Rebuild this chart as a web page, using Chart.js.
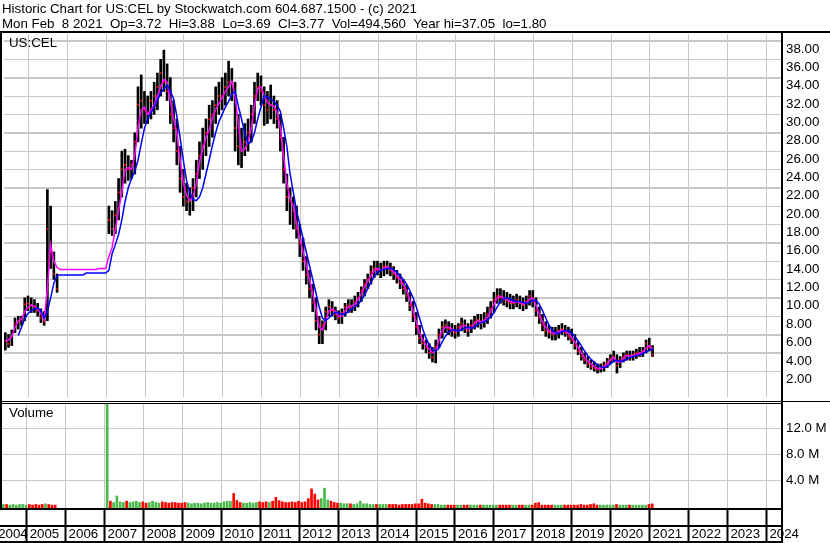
<!DOCTYPE html>
<html>
<head>
<meta charset="utf-8">
<script src="https://cdn.jsdelivr.net/npm/chart.js@4.4.1/dist/chart.umd.min.js"></script>
<style>
  body { margin: 0; background: #fff; width: 830px; height: 543px; overflow: hidden; position: relative; }
  canvas { position: absolute; left: 0; }
  .txt { position: absolute; font-family: "Liberation Sans", Arial, sans-serif; font-size: 13.3px; line-height: 15px; white-space: pre; color: #000; }
</style>
</head>
<body>
<canvas id="price" width="830" height="371" style="top:30px"></canvas>
<canvas id="volume" width="830" height="143" style="top:400px"></canvas>
<div class="txt" style="left:2px;top:1.4px">Historic Chart for US:CEL by Stockwatch.com 604.687.1500 - (c) 2021
Mon Feb  8 2021  Op=3.72  Hi=3.88  Lo=3.69  Cl=3.77  Vol=494,560  Year hi=37.05  lo=1.80</div>
<div class="txt" style="left:9px;top:35.4px">US:CEL</div>
<div class="txt" style="left:9px;top:405.4px">Volume</div>
<script>
// monthly bars, first one is May 2004, last one Feb 2021
var firstMonth = 2004.4;
var yearTicks = [2004, 2005, 2006, 2007, 2008, 2009, 2010, 2011, 2012, 2013, 2014, 2015, 2016, 2017, 2018, 2019, 2020, 2021, 2022, 2023, 2024];
var priceTicks = [2, 4, 6, 8, 10, 12, 14, 16, 18, 20, 22, 24, 26, 28, 30, 32, 34, 36, 38];
var volumeTicks = [4, 8, 12];
var N = null;

var high = [
  6.2, 6.0, 6.5, 7.8, 8.0, 8.0, 10.0, 10.2,
  10.0, 9.8, 9.4, 8.8, 8.5, 21.8, 20.0, 15.0, 12.6, N, N, N,
  N, N, N, N, N, N, N, N, N, N, N, N,
  20.0, 19.5, 20.5, 23.0, 26.0, 26.2, 25.5, 25.0, 28.0, 33.0, 34.3, 32.5,
  32.0, 32.5, 33.5, 34.5, 36.0, 37.0, 35.5, 34.0, 31.5, 29.5, 26.5, 24.0,
  22.5, 22.0, 23.0, 25.0, 27.0, 28.5, 29.5, 31.0, 31.5, 33.0, 33.5, 34.0,
  34.5, 35.8, 35.0, 33.5, 30.0, 28.5, 29.0, 29.5, 31.0, 33.5, 34.5, 34.2,
  33.0, 32.5, 33.2, 32.0, 31.5, 30.0, 27.5, 23.5, 22.0, 21.0, 20.0, 18.0,
  16.5, 14.5, 13.0, 11.5, 10.0, 8.0, 7.5, 9.0, 9.8, 9.6, 9.0, 8.6,
  8.8, 9.4, 9.8, 9.8, 10.2, 10.6, 11.2, 12.0, 12.6, 13.5, 14.0, 14.0,
  13.8, 14.0, 14.0, 13.8, 13.4, 13.0, 12.6, 12.0, 11.4, 10.6, 9.6, 8.4,
  7.0, 6.0, 5.4, 5.0, 4.6, 5.4, 6.6, 7.4, 7.6, 7.4, 7.2, 7.0,
  7.2, 7.8, 7.6, 7.2, 7.6, 8.0, 8.2, 8.2, 8.4, 9.0, 9.6, 10.6,
  11.0, 11.0, 10.8, 10.6, 10.4, 10.2, 10.4, 10.2, 10.0, 10.2, 10.8, 10.8,
  10.0, 9.0, 8.2, 7.4, 7.0, 6.8, 6.8, 7.0, 7.2, 7.0, 6.8, 6.6,
  6.0, 5.2, 4.6, 4.0, 3.6, 3.2, 3.0, 2.8, 2.8, 3.0, 3.4, 3.8,
  4.2, 3.8, 3.6, 4.0, 4.2, 4.2, 4.2, 4.4, 4.6, 4.6, 5.4, 5.6,
  4.8
];
var low = [
  4.3, 4.6, 4.8, 6.2, 6.6, 7.0, 7.5, 8.6,
  8.4, 8.4, 8.0, 7.3, 7.0, 7.5, 13.2, 12.0, 10.6, N, N, N,
  N, N, N, N, N, N, N, N, N, N, N, N,
  17.0, 16.8, 17.0, 18.5, 21.0, 22.5, 22.8, 23.0, 23.5, 27.0, 28.5, 29.0,
  29.0, 29.5, 30.0, 30.5, 32.0, 32.5, 31.5, 29.0, 27.0, 24.5, 21.5, 20.0,
  19.5, 19.0, 19.5, 21.0, 23.0, 24.0, 25.5, 26.5, 27.5, 29.0, 30.0, 30.5,
  31.0, 32.0, 31.5, 26.0, 24.5, 24.2, 25.5, 26.0, 27.0, 29.0, 31.5, 31.0,
  28.8, 29.0, 29.5, 29.0, 28.5, 26.0, 22.5, 19.5, 18.0, 17.5, 16.5, 14.5,
  13.0, 11.5, 10.0, 8.5, 6.5, 5.0, 5.0, 6.5, 8.0, 8.0, 7.6, 7.2,
  7.2, 8.0, 8.4, 8.4, 8.6, 9.0, 9.6, 10.2, 11.0, 11.5, 12.2, 12.5,
  12.2, 12.4, 12.6, 12.4, 12.0, 11.6, 11.0, 10.4, 9.6, 8.6, 7.4, 6.0,
  5.0, 4.4, 4.0, 3.4, 3.0, 2.9, 4.6, 5.6, 6.2, 6.0, 5.8, 5.6,
  5.8, 6.4, 6.2, 5.8, 6.2, 6.6, 6.8, 6.6, 6.8, 7.2, 7.8, 8.4,
  9.4, 9.4, 9.2, 9.0, 8.8, 8.8, 9.0, 8.8, 8.6, 8.8, 9.2, 9.0,
  8.0, 7.2, 6.4, 5.8, 5.6, 5.4, 5.4, 5.6, 6.0, 5.8, 5.4, 5.0,
  4.4, 3.8, 3.2, 2.8, 2.4, 2.2, 2.0, 1.8, 1.9, 2.0, 2.4, 2.8,
  3.0, 1.8, 2.4, 3.0, 3.2, 3.2, 3.2, 3.4, 3.6, 3.6, 4.0, 4.2,
  3.6
];
var close = [
  5.3, 5.0, 5.8, 7.2, 7.4, 7.6, 9.3, 9.4,
  9.2, 9.0, 8.6, 7.8, 7.4, 17.5, 15.0, 12.6, 11.0, N, N, N,
  N, N, N, N, N, N, N, N, N, N, N, N,
  18.5, 17.5, 19.0, 21.5, 24.0, 24.5, 24.0, 24.5, 27.0, 31.0, 31.5, 30.5,
  30.0, 31.5, 32.0, 33.0, 34.5, 33.5, 32.5, 30.0, 28.5, 26.0, 23.0, 21.0,
  20.5, 20.5, 22.0, 23.5, 25.5, 26.5, 28.0, 29.5, 30.0, 31.0, 32.0, 32.0,
  33.0, 33.5, 33.5, 28.5, 26.5, 26.0, 27.0, 28.0, 30.0, 32.0, 33.0, 32.5,
  31.0, 30.5, 31.0, 30.5, 29.5, 27.5, 24.0, 21.0, 20.5, 19.5, 17.5, 16.0,
  14.0, 12.5, 11.0, 9.5, 7.5, 6.0, 7.0, 8.5, 9.0, 8.6, 8.2, 7.8,
  8.4, 9.0, 9.2, 9.0, 9.6, 10.0, 10.8, 11.5, 12.0, 12.8, 13.2, 13.0,
  13.0, 13.4, 13.5, 13.0, 12.6, 12.2, 11.6, 11.0, 10.2, 9.2, 8.0, 6.8,
  5.6, 5.0, 4.6, 4.0, 3.5, 4.6, 6.0, 6.8, 7.0, 6.6, 6.4, 6.2,
  6.8, 7.2, 6.6, 6.4, 7.0, 7.4, 7.6, 7.2, 7.6, 8.2, 8.8, 9.8,
  10.2, 10.0, 9.8, 9.6, 9.4, 9.4, 9.8, 9.4, 9.2, 9.6, 10.2, 9.6,
  8.6, 7.8, 7.0, 6.4, 6.2, 6.0, 6.2, 6.4, 6.6, 6.2, 5.8, 5.4,
  4.8, 4.2, 3.6, 3.2, 2.8, 2.5, 2.3, 2.2, 2.3, 2.6, 3.0, 3.4,
  3.6, 2.6, 3.2, 3.6, 3.8, 3.6, 3.8, 4.0, 4.0, 4.2, 5.0, 4.6,
  3.8
];
// magenta (short) and blue (long) moving averages as drawn
var maFast = [
  5.3, 5.4, 5.8, 6.8, 7.5, 7.7, 8.5, 9.0,
  9.2, 9.1, 8.8, 8.3, 7.6, 11.0, 15.8, 14.0, 13.3, 13.1, 13.1, 13.1,
  13.1, 13.1, 13.1, 13.1, 13.1, 13.1, 13.1, 13.1, 13.1, 13.2, 13.2, 13.2,
  14.5, 15.5, 17.5, 19.5, 21.5, 24.0, 24.2, 24.0, 25.5, 28.5, 30.5, 30.8,
  30.0, 30.5, 31.0, 32.0, 33.0, 33.8, 33.5, 31.5, 29.5, 28.0, 25.0, 22.5,
  21.2, 20.6, 21.0, 22.5, 24.8, 26.2, 27.5, 28.3, 29.6, 30.5, 31.2, 31.8,
  32.5, 33.0, 33.6, 32.0, 29.0, 26.0, 26.2, 27.0, 28.5, 31.0, 32.8, 33.0,
  32.0, 31.3, 31.0, 30.9, 30.2, 28.5, 25.5, 22.5, 20.8, 20.0, 18.0, 16.5,
  15.0, 13.5, 12.0, 10.5, 8.8, 6.8, 6.5, 7.5, 8.6, 8.8, 8.5, 8.0,
  8.0, 8.6, 9.0, 9.1, 9.3, 9.8, 10.4, 11.2, 11.8, 12.4, 13.0, 13.2,
  13.0, 13.2, 13.4, 13.2, 12.8, 12.4, 12.0, 11.4, 10.8, 9.8, 8.6, 7.4,
  6.2, 5.4, 4.9, 4.4, 4.0, 4.2, 5.4, 6.4, 6.8, 6.8, 6.6, 6.4,
  6.4, 6.9, 7.0, 6.6, 6.7, 7.2, 7.5, 7.4, 7.5, 7.9, 8.5, 9.3,
  10.0, 10.2, 10.0, 9.8, 9.6, 9.5, 9.6, 9.5, 9.3, 9.4, 9.9, 10.0,
  9.2, 8.2, 7.4, 6.8, 6.4, 6.2, 6.1, 6.3, 6.5, 6.4, 6.1, 5.7,
  5.2, 4.6, 4.0, 3.5, 3.1, 2.8, 2.5, 2.3, 2.3, 2.4, 2.8, 3.2,
  3.5, 3.0, 3.0, 3.4, 3.7, 3.7, 3.7, 3.8, 4.0, 4.1, 4.5, 4.8,
  4.4
];
var maSlow = [
  N, N, N, N, 5.9, 6.8, 7.7, 8.3,
  8.6, 8.8, 8.9, 8.6, 7.8, 8.5, 10.0, 11.6, 12.4, 12.5, 12.5, 12.5,
  12.5, 12.5, 12.5, 12.5, 12.5, 12.7, 12.7, 12.7, 12.7, 12.7, 12.7, 12.7,
  13.0, 14.8, 15.8, 16.9, 18.5, 20.5, 22.0, 23.0, 23.8, 25.0, 26.8, 28.5,
  29.5, 30.2, 30.8, 31.5, 32.3, 32.8, 33.2, 32.5, 31.7, 29.8, 27.5, 25.0,
  22.8, 21.5, 20.7, 20.6, 21.0, 22.0, 23.5, 25.0, 26.6, 28.0, 29.2, 30.0,
  30.8, 31.4, 32.2, 32.5, 30.9, 29.5, 28.0, 26.8, 27.0, 28.0, 29.5, 30.8,
  32.0, 31.9, 31.7, 31.4, 31.0, 30.3, 28.5, 26.5, 23.5, 21.5, 19.5, 18.0,
  16.5, 15.0, 13.5, 12.0, 10.5, 9.0, 7.8, 7.5, 7.8, 8.2, 8.4, 8.4,
  8.2, 8.2, 8.5, 8.8, 9.0, 9.3, 9.7, 10.3, 11.0, 11.7, 12.3, 12.8,
  13.0, 13.1, 13.2, 13.2, 13.1, 12.8, 12.4, 12.0, 11.5, 10.8, 10.0, 9.0,
  7.8, 6.6, 5.6, 4.9, 4.4, 4.2, 4.5, 5.2, 5.8, 6.3, 6.5, 6.5,
  6.4, 6.5, 6.7, 6.8, 6.7, 6.8, 7.1, 7.3, 7.4, 7.6, 7.9, 8.4,
  9.0, 9.6, 9.9, 10.0, 9.9, 9.7, 9.6, 9.6, 9.5, 9.4, 9.5, 9.7,
  9.7, 9.3, 8.6, 7.8, 7.0, 6.5, 6.2, 6.1, 6.3, 6.4, 6.4, 6.2,
  5.8, 5.3, 4.8, 4.2, 3.7, 3.3, 3.0, 2.7, 2.5, 2.4, 2.5, 2.8,
  3.1, 3.2, 3.1, 3.1, 3.3, 3.5, 3.6, 3.7, 3.8, 3.9, 4.1, 4.3,
  4.4
];
// volume in millions of shares
var volume = [
  0.3, 0.3, 0.2, 0.3, 0.2, 0.3, 0.3, 0.2,
  0.3, 0.2, 0.3, 0.2, 0.3, 0.4, 0.3, 0.2, 0.2, N, N, N,
  N, N, N, N, N, N, N, N, N, N, N, N,
  16, 0.8, 0.6, 1.6, 0.7, 0.6, 0.8, 0.6, 0.7, 0.8, 0.6, 0.7,
  0.5, 0.6, 0.8, 0.6, 0.5, 0.7, 0.6, 0.5, 0.6, 0.6, 0.5, 0.5,
  0.6, 0.5, 0.4, 0.5, 0.5, 0.4, 0.5, 0.6, 0.5, 0.5, 0.6, 0.5,
  0.7, 0.8, 0.8, 2.0, 0.9, 0.6, 0.5, 0.5, 0.6, 0.5, 0.6, 0.7,
  0.6, 0.7, 0.6, 0.8, 1.4, 0.9, 0.7, 0.6, 0.6, 0.7, 0.6, 0.8,
  0.6, 0.7, 1.2, 2.7, 1.9, 1.0, 1.2, 2.8, 1.0, 0.8, 0.6, 0.5,
  0.5, 0.4, 0.4, 0.4, 0.3, 0.4, 0.8, 0.4, 0.4, 0.3, 0.3, 0.3,
  0.3, 0.3, 0.3, 0.3, 0.3, 0.3, 0.2, 0.3, 0.3, 0.3, 0.3, 0.4,
  0.4, 1.1, 0.5, 0.4, 0.3, 0.3, 0.3, 0.2, 0.2, 0.2, 0.2, 0.2,
  0.2, 0.2, 0.2, 0.2, 0.2, 0.2, 0.2, 0.2, 0.2, 0.2, 0.2, 0.2,
  0.2, 0.2, 0.2, 0.2, 0.2, 0.2, 0.2, 0.2, 0.2, 0.2, 0.2, 0.2,
  0.5, 0.6, 0.2, 0.2, 0.2, 0.2, 0.2, 0.2, 0.2, 0.2, 0.2, 0.2,
  0.2, 0.2, 0.3, 0.2, 0.2, 0.3, 0.4, 0.2, 0.2, 0.2, 0.2, 0.2,
  0.2, 0.3, 0.2, 0.2, 0.2, 0.2, 0.2, 0.2, 0.2, 0.2, 0.2, 0.3,
  0.4
];

var dates = high.map(function (v, i) { return firstMonth + i / 12; });
var xMin = 2004.366, xMax = 2024.375;
var volMin = -0.4;
var font = { family: '"Liberation Sans", Arial, sans-serif', size: 13.3 };
var gridColor = '#c8c8c8';

function points(arr) {
  return dates.map(function (t, i) { return { x: t, y: arr[i] }; });
}
var ranges = [];
dates.forEach(function (t, i) {
  if (high[i] !== null) ranges.push({ x: t, y: [low[i], high[i]] });
});
var volColors = volume.map(function (v, i) {
  if (i === 0 || close[i] === null || close[i - 1] === null) return '#4cb84c';
  return close[i] >= close[i - 1] ? '#4cb84c' : '#ff0000';
});

function noPad(s) { s.paddingTop = 0; s.paddingBottom = 0; s.paddingLeft = 0; s.paddingRight = 0; }

// horizontal grid lines, drawn under the data
var hGrid = {
  id: 'hGrid',
  beforeDatasetsDraw: function (chart) {
    var ctx = chart.ctx, a = chart.chartArea, y = chart.scales.y;
    ctx.save();
    ctx.fillStyle = gridColor;
    y.ticks.forEach(function (t) {
      ctx.fillRect(a.left, Math.round(y.getPixelForValue(t.value)), a.right - a.left, 1);
    });
    ctx.restore();
  }
};
var priceFrame = {
  id: 'priceFrame',
  afterDraw: function (chart) {
    var ctx = chart.ctx, a = chart.chartArea;
    ctx.save();
    ctx.fillStyle = '#000';
    ctx.fillRect(0, 1, 830, 2);
    ctx.fillRect(0, 3, 2, chart.height);
    ctx.fillRect(a.right, 3, 2, chart.height);
    ctx.restore();
  }
};
var volumeFrame = {
  id: 'volumeFrame',
  afterDraw: function (chart) {
    var ctx = chart.ctx, a = chart.chartArea;
    ctx.save();
    ctx.fillStyle = '#000';
    ctx.fillRect(0, 1, 830, 1);
    ctx.fillRect(0, 3, a.right, 1);
    ctx.fillRect(0, 0, 2, a.bottom);
    ctx.fillRect(a.right, 0, 2, chart.height);
    ctx.fillRect(0, a.bottom - 1, a.right, 2);
    ctx.fillRect(0, a.bottom + 16, a.right, 2);
    ctx.fillRect(0, chart.height - 2, a.right, 2);
    ctx.restore();
  }
};

function yearAxis(showLabels) {
  return {
    type: 'linear', min: xMin, max: xMax, offset: false,
    afterBuildTicks: function (s) { s.ticks = yearTicks.map(function (v) { return { value: v }; }); },
    afterFit: function (s) { s.height = showLabels ? 34 : 0; noPad(s); },
    ticks: showLabels ? {
      color: '#000', font: font, align: 'start', labelOffset: 3, padding: -16.5,
      autoSkip: false, maxRotation: 0, minRotation: 0,
      // the first year starts left of the plot, so its label is pushed in
      callback: function (v) { return v === yearTicks[0] ? '  ' + v : String(v); }
    } : { display: false },
    grid: showLabels
      ? { color: gridColor, offset: false, tickColor: '#000', tickLength: 34, tickWidth: 2 }
      : { color: gridColor, offset: false, drawTicks: false },
    border: { display: false }
  };
}

new Chart(document.getElementById('price'), {
  type: 'bar',
  data: {
    datasets: [{
      type: 'line', data: points(maSlow), borderColor: '#0000ff', borderWidth: 1.5,
      pointRadius: 0, tension: 0, order: 0
    }, {
      type: 'line', data: points(maFast), borderColor: '#ff00ff', borderWidth: 1.5,
      pointRadius: 0, tension: 0, order: 1
    }, {
      type: 'line', data: points(close), showLine: false, pointStyle: 'rect',
      pointRadius: 1.2, pointBorderWidth: 0, pointBackgroundColor: '#ff0000', order: 2
    }, {
      data: ranges, backgroundColor: '#000', barThickness: 2, order: 3
    }]
  },
  options: {
    responsive: false, animation: false,
    layout: { padding: { left: 2, top: 4, right: 0, bottom: 0 } },
    plugins: { legend: { display: false }, tooltip: { enabled: false } },
    scales: {
      x: yearAxis(false),
      y: {
        position: 'right', min: -0.81, max: 38.76, beginAtZero: false,
        afterBuildTicks: function (s) { s.ticks = priceTicks.map(function (v) { return { value: v }; }); },
        afterFit: function (s) { s.width = 49; noPad(s); },
        ticks: {
          color: '#000', font: font, padding: 5, labelOffset: 8, autoSkip: false,
          callback: function (v) { return v.toFixed(2); }
        },
        grid: { color: gridColor, drawTicks: false },
        border: { display: false }
      }
    }
  },
  plugins: [hGrid, priceFrame]
});

new Chart(document.getElementById('volume'), {
  type: 'bar',
  data: {
    datasets: [{
      data: points(volume), backgroundColor: volColors, barThickness: 2, base: volMin
    }]
  },
  options: {
    responsive: false, animation: false,
    layout: { padding: { left: 2, top: 4, right: 0, bottom: 0 } },
    plugins: { legend: { display: false }, tooltip: { enabled: false } },
    scales: {
      x: yearAxis(true),
      y: {
        position: 'right', min: volMin, max: 15.75, beginAtZero: false,
        afterBuildTicks: function (s) { s.ticks = volumeTicks.map(function (v) { return { value: v }; }); },
        afterFit: function (s) { s.width = 49; noPad(s); },
        ticks: {
          color: '#000', font: font, padding: 5, autoSkip: false,
          callback: function (v) { return v.toFixed(1) + ' M'; }
        },
        grid: { color: gridColor, drawTicks: false },
        border: { display: false }
      }
    }
  },
  plugins: [hGrid, volumeFrame]
});
</script>
</body>
</html>
